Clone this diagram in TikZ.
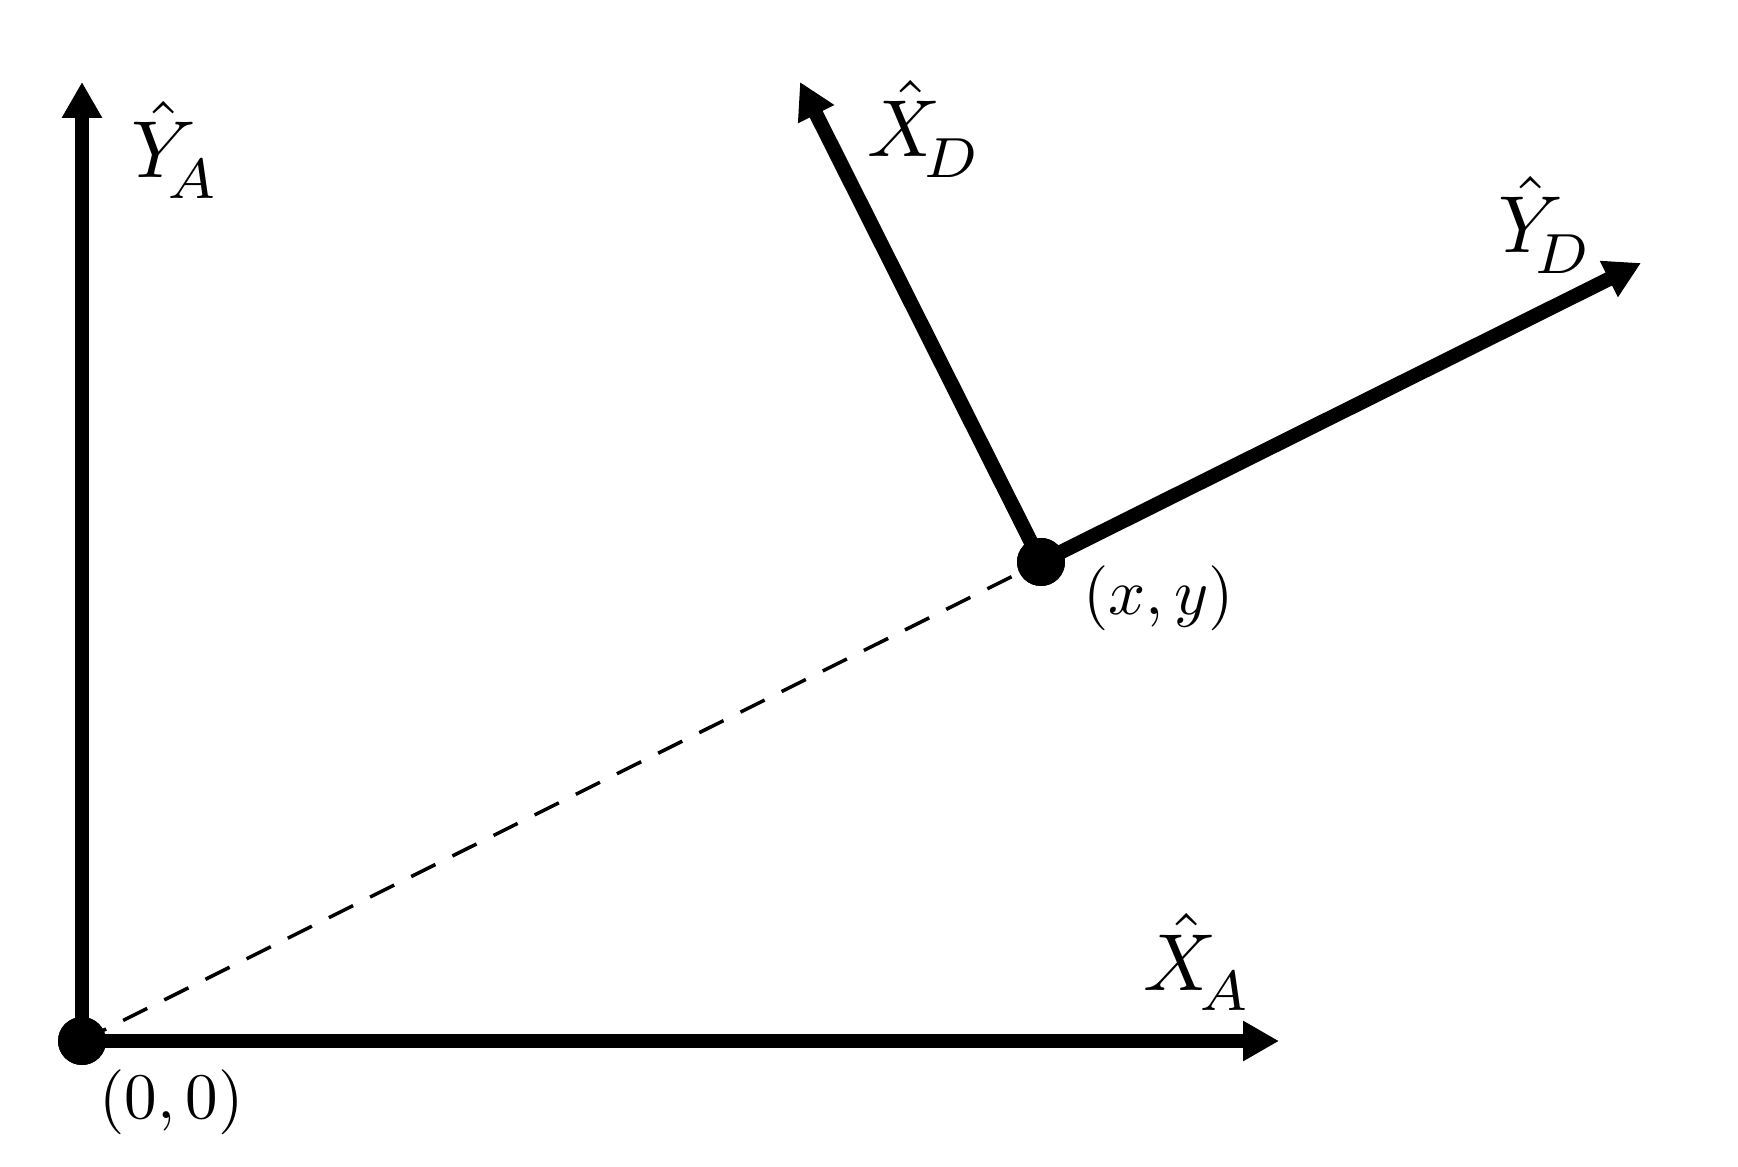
\documentclass[tikz,border=0pt]{standalone}
\usepackage{amsmath}
\usetikzlibrary{arrows.meta}
\newcommand{\lowsub}[1]{\raisebox{-1pt}{$\scriptstyle #1$}}
\tikzset{
  axis/.style={line width=0.145cm, -{Triangle[length=0.36cm,width=0.38cm]}},
  dotnode/.style={circle, fill=black, inner sep=0pt, minimum size=0.48cm},
  biglabel/.style={anchor=base west, inner sep=0pt, scale=2.3},
  coordlabel/.style={anchor=base west, inner sep=0pt, scale=1.85},
  guide/.style={line width=0.035cm, dash pattern=on 0.27cm off 0.19cm}
}
\begin{document}
\begin{tikzpicture}
\useasboundingbox (0,0) rectangle (17.38,11.66);
\coordinate (YAtip) at (0.82,10.84);
\coordinate (XAtip) at (12.79,1.25);
\coordinate (XDtip) at (8.00,10.84);
\coordinate (YDtip) at (16.41,9.03);
\node[dotnode] (O) at (0.82,1.25) {};
\node[dotnode] (P) at (10.41,6.04) {};
\draw[guide] (O.center) -- (P.center);
\draw[axis] (O.center) -- (YAtip);
\draw[axis] (O.center) -- (XAtip);
\draw[axis] (P.center) -- (XDtip);
\draw[axis] (P.center) -- (YDtip);
\node[dotnode] at (O) {};
\node[dotnode] at (P) {};
\node[biglabel] (lYA) at (1.30,9.88) {$\hat{Y}_{\mkern-3mu\lowsub{A}}$};
\node[biglabel] (lXA) at (11.42,1.76) {$\hat{X}_{\mkern-3mu\lowsub{A}}$};
\node[biglabel] (lXD) at (8.66,10.09) {$\hat{X}_{\mkern-3mu\lowsub{D}}$};
\node[biglabel] (lYD) at (14.97,9.13) {$\hat{Y}_{\mkern-3mu\lowsub{D}}$};
\node[coordlabel] (lO) at (0.98,0.48) {$(0,0)$};
\node[coordlabel] (lP) at (10.82,5.51) {$(x,y)$};
\end{tikzpicture}
\end{document}
